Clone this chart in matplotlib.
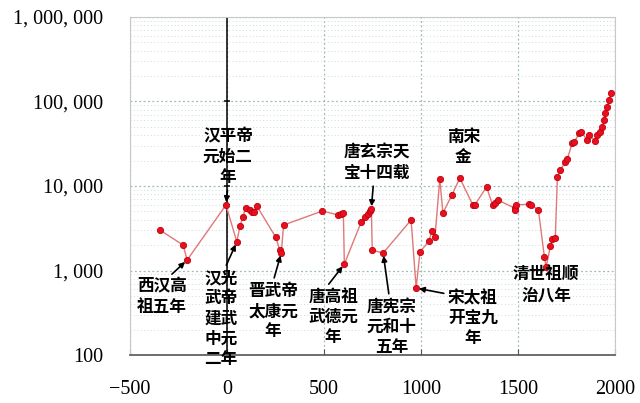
import matplotlib
matplotlib.use("Agg")
import matplotlib.pyplot as plt
from matplotlib.ticker import LogLocator, NullFormatter

plt.rcParams['font.family'] = ['Noto Sans CJK SC', 'DejaVu Sans']

# 年份与数值（从原图读取，对数坐标）
years = [-344, -226, -205, -5, 51, 67, 82, 97, 118, 128, 138, 154,
         251, 272, 280, 292, 492, 574, 590, 600, 605,
         692, 713, 728, 738, 744, 749, 805,
         949, 975, 995, 1041, 1056, 1072, 1097, 1113, 1159, 1200,
         1267, 1277, 1338, 1369, 1380, 1395, 1482, 1487, 1492, 1559, 1569, 1605,
         1636, 1645, 1667, 1677, 1692, 1703, 1718, 1744, 1754, 1779, 1790, 1815, 1826,
         1856, 1867, 1897, 1908, 1923, 1933, 1944, 1949, 1959, 1969, 1979]
values = [3000, 2000, 1330, 5960, 2180, 3360, 4300, 5490, 5200, 4900, 4900, 5800,
          2490, 1750, 1620, 3450, 5060, 4530, 4650, 4800, 1190,
          3750, 4300, 4700, 5100, 5340, 1740, 1610,
          3960, 620, 1656, 2230, 2935, 2490, 12100, 4800, 7800, 12400,
          5960, 5960, 9730, 5960, 6300, 6830, 5490, 5200, 5960, 6100, 5960, 5200,
          1450, 1100, 1950, 2350, 2400, 12800, 15400, 19300, 20800, 32000, 33000, 42000, 43500,
          35000, 40000, 34000, 40000, 43500, 49800, 60000, 73000, 86000, 104000, 126000]

x_ticks = [-500, 0, 500, 1000, 1500, 2000]
x_labels = ['\u2212500', '0', '500', '1000', '1500', '2000']
y_ticks = [100, 1000, 10000, 100000, 1000000]
y_labels = ['100', '1, 000', '10, 000', '100, 000', '1, 000, 000']

# 注释：文字、指向的数据点序号（None 表示无箭头）、文字位置（轴坐标）、箭头起点
notes = [
    ('西汉高\n祖五年', 2, (0.066, 0.172), (0.62, 1.0)),
    ('汉平帝\n元始二\n年', 3, (0.202, 0.586), (0.5, 0.0)),
    ('汉光\n武帝\n建武\n中元\n二年', 4, (0.188, 0.108), (0.6, 1.0)),
    ('晋武帝\n太康元\n年', 14, (0.295, 0.130), (0.5, 1.0)),
    ('唐高祖\n武德元\n年', 20, (0.419, 0.112), (0.35, 1.0)),
    ('唐玄宗天\n宝十四载', 25, (0.509, 0.568), (0.45, 0.0)),
    ('唐宪宗\n元和十\n五年', 27, (0.540, 0.083), (0.45, 1.0)),
    ('宋太祖\n开宝九\n年', 29, (0.707, 0.109), (0.08, 0.9)),
    ('南宋\n金', None, (0.687, 0.615), None),
    ('清世祖顺\n治八年', None, (0.858, 0.207), None),
]

fig = plt.figure(figsize=(6.4, 4.03), dpi=100)
ax = fig.add_axes([0.203, 0.119, 0.758, 0.839])

ax.set_yscale('log')
ax.set_xlim(-500, 2000)
ax.set_ylim(100, 1000000)

# 网格
ax.yaxis.set_minor_locator(LogLocator(base=10, subs=range(2, 10)))
ax.yaxis.set_minor_formatter(NullFormatter())
ax.grid(True, which='major', axis='both', linestyle=(0, (1.5, 2)), color='#9fb8b8', lw=0.9)
ax.grid(True, which='minor', axis='y', linestyle=(0, (1, 2.5)), color='#cddcdc', lw=0.7)
ax.set_axisbelow(True)

# 纵轴（位于 x=0）
ax.axvline(0, color='black', lw=1.1, zorder=2)
ax.hlines(y_ticks, -15, 15, color='black', lw=1.1, zorder=2)

ax.plot(years, values, color='#e07878', lw=1.0, marker='o', ms=4.5,
        markerfacecolor='#e8101e', markeredgecolor='#c00010', markeredgewidth=0.6, zorder=3)

for s in ['top', 'right', 'left']:
    ax.spines[s].set_color('#c8c8c8')
    ax.spines[s].set_linewidth(0.8)
ax.spines['bottom'].set_color('#555555')
ax.spines['bottom'].set_linewidth(1.2)

ax.set_xticks(x_ticks, x_labels)
ax.set_yticks(y_ticks, y_labels)
ax.tick_params(axis='y', which='both', length=0, pad=19)
ax.tick_params(axis='x', length=4, direction='in', pad=18, color='#555555')
for lab in ax.get_xticklabels() + ax.get_yticklabels():
    lab.set_fontfamily('Liberation Serif')
    lab.set_fontsize(14.5)

for text, idx, pos, rel in notes:
    if idx is None:
        ax.text(pos[0], pos[1], text, transform=ax.transAxes, ha='center', va='center',
                fontsize=12, fontweight='bold', linespacing=1.15, zorder=5)
    else:
        ax.annotate(text, xy=(years[idx], values[idx]), xycoords='data',
                    xytext=pos, textcoords='axes fraction', ha='center', va='center',
                    fontsize=12, fontweight='bold', linespacing=1.15, zorder=5,
                    arrowprops=dict(arrowstyle='-|>', color='black', lw=1.2,
                                    mutation_scale=8, shrinkA=1, shrinkB=2, relpos=rel))

fig.savefig('out.png', dpi=100)
